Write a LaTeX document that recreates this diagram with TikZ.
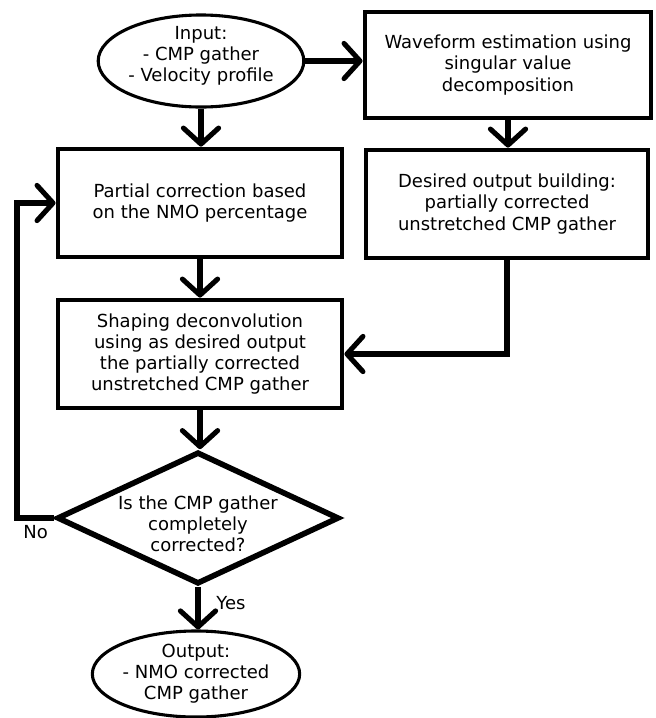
\documentclass[tikz,border=0pt]{standalone}
\usepackage{fontspec}
\setmainfont{DejaVu Sans}
\usetikzlibrary{shapes.geometric,arrows.meta}

\begin{document}
\begin{tikzpicture}[x=0.025cm,y=-0.025cm,
  every node/.style={font=\fontsize{12.8}{15}\selectfont,align=center},
  procbox/.style={draw,rectangle,line width=3.4pt,inner sep=0pt,minimum width=7.1cm,minimum height=2.7cm},
  ioval/.style={draw,ellipse,line width=2.2pt,inner sep=0pt},
  testdia/.style={draw,diamond,aspect=2.1,line width=4pt,inner xsep=0pt,inner ysep=-0.15cm},
  flow/.style={line width=3.6pt,-{Straight Barb[length=0.4cm,width=0.88cm,round]}}]
\path[use as bounding box] (0,0) rectangle (656,718);
\node[ioval,inner ysep=-0.125cm,minimum width=5.05cm,minimum height=2.3cm] (input) at (201,61) {Input:\\- CMP gather\\- Velocity profile\rule[-0.36cm]{0pt}{0pt}};
\node[procbox,minimum width=7.15cm,minimum height=2.65cm] (wave) at (508,65) {Waveform estimation using\\singular value\\decomposition};
\node[procbox] (partial) at (200,203) {Partial correction based\\on the NMO percentage};
\node[procbox,minimum width=7.05cm] (desired) at (507,204) {Desired output building:\\partially corrected\\unstretched CMP gather};
\node[procbox] (shaping) at (200,354) {Shaping deconvolution\\using as desired output\\the partially corrected\\unstretched CMP gather};
\node[testdia,minimum width=7.05cm,minimum height=3.3cm] (decide) at (198,518) {\rule{0pt}{0.64cm}Is the CMP gather\\completely\\corrected?};
\node[ioval,minimum width=4.875cm,minimum height=2.15cm] (output) at (196,674) {Output:\\- NMO corrected\\CMP gather};
\coordinate (back) at (17,200);
\draw[flow] (input.east) -- (input.east -| wave.west);
\draw[flow] (input.south) -- (input.south |- partial.north);
\draw[flow] (wave.south) -- (wave.south |- desired.north);
\draw[flow] (partial) -- (shaping);
\draw[flow] (desired.south) |- (shaping.east);
\draw[flow] (shaping.south) -- (shaping.south |- decide.north);
\draw[flow] (decide.west) -- node[below]{No} (decide.west -| back) |- (partial.west);
\draw[flow] (decide.south) -- node[right,pos=0.38,xshift=8pt]{Yes} (decide.south |- output.north);
\end{tikzpicture}
\end{document}
